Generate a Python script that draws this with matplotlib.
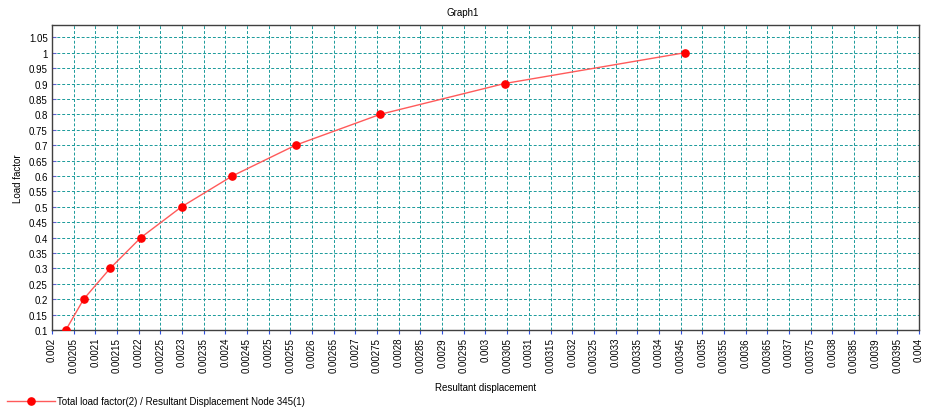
import matplotlib
matplotlib.use("Agg")
import matplotlib.pyplot as plt
import numpy as np

plt.rcParams["font.family"] = ["Liberation Sans", "DejaVu Sans"]
plt.rcParams["font.size"] = 7

# valores
deslocamento = [0.002032, 0.002073, 0.002134, 0.002205, 0.002299,
                0.002416, 0.002562, 0.002757, 0.003044, 0.003460]
fator_carga = [0.1, 0.2, 0.3, 0.4, 0.5, 0.6, 0.7, 0.8, 0.9, 1.0]

ticks_x = np.round(np.arange(0.002, 0.00401, 0.00005), 5)
ticks_y = np.round(np.arange(0.1, 1.051, 0.05), 2)

rotulo_serie = "Total load factor(2) / Resultant Displacement Node 345(1)"

fig = plt.figure(figsize=(9.28, 4.10), dpi=100)
ax = fig.add_axes([52 / 928, 1 - 331 / 410, (919 - 52) / 928, (331 - 26) / 410])

ax.plot(deslocamento, fator_carga, color="#ff5a5a", linewidth=1.0,
        marker="o", markersize=5.2, markerfacecolor="red", markeredgecolor="red",
        label=rotulo_serie, zorder=3)

ax.set_xlim(0.002, 0.004)
ax.set_ylim(0.1, 1.09)
ax.set_xticks(ticks_x)
ax.set_xticklabels(["%g" % v for v in ticks_x], rotation=90)
ax.set_yticks(ticks_y)
ax.set_yticklabels(["%g" % v for v in ticks_y])

ax.grid(True, color="#1a9a9a", linestyle=(0, (3, 2)), linewidth=0.7)
ax.tick_params(axis="x", direction="out", length=3, color="#3050e0", pad=2)
ax.tick_params(axis="y", direction="in", length=3, color="#6060d0", pad=3)
for lado in ax.spines.values():
    lado.set_color("#404040")
    lado.set_linewidth(1.0)

ax.set_xlabel("Resultant displacement", labelpad=7)
ax.set_ylabel("Load factor", labelpad=4)
fig.text(463 / 928, 1 - 13 / 410, "Graph1", ha="center", va="center")

fig.legend(loc="lower left", bbox_to_anchor=(0.0, -0.01), frameon=False,
           handlelength=5.0, handletextpad=0.2, borderaxespad=0.3)

fig.savefig("out.png", dpi=100)
